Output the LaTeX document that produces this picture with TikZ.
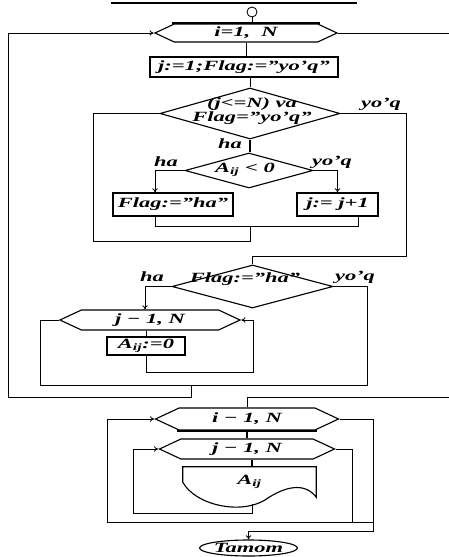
\documentclass[tikz,border=0pt]{standalone}
\usepackage{fontspec}
\setmainfont{Liberation Serif}[FakeStretch=1.6]
\usetikzlibrary{shapes.geometric,shapes.symbols,arrows.meta}
\begin{document}
\begin{tikzpicture}[x=0.025cm,y=-0.025cm,
  every node/.style={font=\bfseries\itshape\fontsize{10}{10}\selectfont},
  conn/.style={line width=0.6pt},
  arr/.style={line width=0.6pt,-{To[length=3pt,width=4pt]}},
  block/.style={draw,rectangle,line width=0.8pt,inner sep=0pt},
  loopbox/.style={draw,signal,signal to=east and west,signal pointer angle=50,line width=0.8pt,inner sep=0pt},
  cond/.style={draw,diamond,line width=0.8pt,inner sep=0pt},
  txt/.style={inner sep=0pt}]
  \useasboundingbox (0,0) rectangle (448,557);
  \draw[line width=0.8pt] (111,3) -- (357,3);

  \node[draw,circle,line width=0.6pt,minimum size=0.25cm,inner sep=0pt] (start) at (252,12) {};
  \node[loopbox,minimum width=4.55cm,minimum height=0.45cm] (h1) at (246,33) {i=1,\ \ N};
  \node[block,minimum width=4.7cm,minimum height=0.5cm] (b1) at (244,67) {j:=1;Flag:=''yo'q''};
  \node[cond,minimum width=4.5cm,minimum height=1.275cm] (d1) at (250,113.5) {};
  \node[txt,align=center] (d1t) at (252,111) {(j<=N) va\\Flag=''yo'q''};
  \node[cond,minimum width=3.2cm,minimum height=0.875cm] (d2) at (249,170.5) {};
  \node[txt] (d2t) at (245,170) {A\textsubscript{ij} < 0};
  \node[block,minimum width=3cm,minimum height=0.575cm] (f1) at (173,204.5) {Flag:=''ha''};
  \node[block,minimum width=2.025cm,minimum height=0.575cm] (j1) at (337.5,204.5) {j:= j+1};
  \node[cond,minimum width=4.025cm,minimum height=1.075cm] (d3) at (252.5,286.5) {};
  \node[txt] (d3t) at (245,279) {Flag:=''ha''};
  \node[loopbox,minimum width=4.5cm,minimum height=0.5cm] (h2) at (150,320) {j − 1, N};
  \node[block,minimum width=1.95cm,minimum height=0.45cm] (a1) at (146,346) {A\textsubscript{ij}:=0};
  \node[loopbox,minimum width=4.575cm,minimum height=0.55cm] (h3) at (247,419) {i − 1, N};
  \node[loopbox,minimum width=4.375cm,minimum height=0.5cm] (h4) at (247,449) {j − 1, N};
  \node[txt,minimum width=3.325cm,minimum height=0.75cm] (doc) at (249.5,482) {A\textsubscript{ij}};
  \node[draw,ellipse,line width=0.8pt,minimum width=2.425cm,minimum height=0.4cm,inner sep=0pt] (stop) at (248.5,548) {Tamom};

  \node[txt] (l1) at (381,104) {yo'q};
  \node[txt] (l2) at (230,144) {ha};
  \node[txt] (l3) at (166,162) {ha};
  \node[txt] (l4) at (332,162) {yo'q};
  \node[txt] (l5) at (152,277) {ha};
  \node[txt] (l6) at (355,277) {yo'q};

  \coordinate (c1) at (93,241);
  \coordinate (c2) at (250,226);
  \coordinate (c3) at (155,226);
  \coordinate (c4) at (358,226);
  \coordinate (c5) at (406,256);
  \coordinate (c6) at (145,286.5);
  \coordinate (c7) at (367,385);
  \coordinate (c8) at (40,320);
  \coordinate (c9) at (191,385);
  \coordinate (c10) at (8,397);
  \coordinate (c11) at (253,372);
  \coordinate (c12) at (452,397);
  \coordinate (c13) at (107,522);
  \coordinate (c14) at (373,531);
  \coordinate (c15) at (133,513);
  \coordinate (c16) at (352,522);
  \coordinate (dbot) at (252,504);

  \draw[line width=0.8pt] (doc.west) -- (doc.north west) -- (doc.north east) -- (doc.south east)
    .. controls (305,482) and (285,486) .. (265,500)
    .. controls (240,515) and (195,505) .. (doc.west);
  \draw[line width=1.5pt] (h1.north) ++(-74,0) -- ++(148,0);
  \draw[line width=1.5pt] (h3.south) ++(-70,0) -- ++(140,0);

  \draw[conn] (start) -- (start |- h1.north);
  \draw[conn] (h1.south) -- (h1.south |- b1.north);
  \draw[conn] (b1.south -| d1.north) -- (d1.north);
  \draw[line width=1.6pt] (d1.south) -- (d1.south |- d2.north);
  \draw[conn] (d1.west) -| (c1) -- (c1 -| c2) -- (c2);
  \draw[arr] (d2.west) -| (c3 |- f1.north);
  \draw[arr] (d2.east) -| (j1.north);
  \draw[conn] (c3 |- f1.south) -- (c3) -- (c4) -- (c4 |- j1.south);
  \draw[conn] (d1.east) -| (c5) -- (c5 -| d3.north) -- (d3.north);
  \draw[arr] (d3.west) -- (c6) -- (c6 |- h2.north);
  \draw[conn] (d3.east) -| (c7) -- (c7 -| c8) -- (c8) -- (h2.west);
  \draw[arr] (c9) -- (c9 |- c10) -- (c10) -- (c10 |- h1.west) -- (h1.west);
  \draw[conn] (h2.south -| a1.north) -- (a1.north);
  \draw[arr] (a1.south) -- (a1.south |- c11) -- (c11) -- (c11 |- h2.east) -- (h2.east);
  \draw[conn] (h1.east) -- (h1.east -| c12) -- (c12) -- (c12 -| h3.north) -- (h3.north);
  \draw[line width=1.6pt] (h3.south) -- (h4.north);
  \draw[line width=1.6pt] (h4.south -| dbot) -- (dbot |- doc.north);
  \draw[arr] (c14 |- c13) -- (c13) -- (c13 |- h3.west) -- (h3.west);
  \draw[arr] (h3.east) -| (c14) -- (c14 -| stop.north) -- (stop.north);
  \draw[arr] (dbot) -- (dbot |- c15) -- (c15) -- (c15 |- h4.west) -- (h4.west);
  \draw[conn] (h4.east) -| (c16);
\end{tikzpicture}
\end{document}
